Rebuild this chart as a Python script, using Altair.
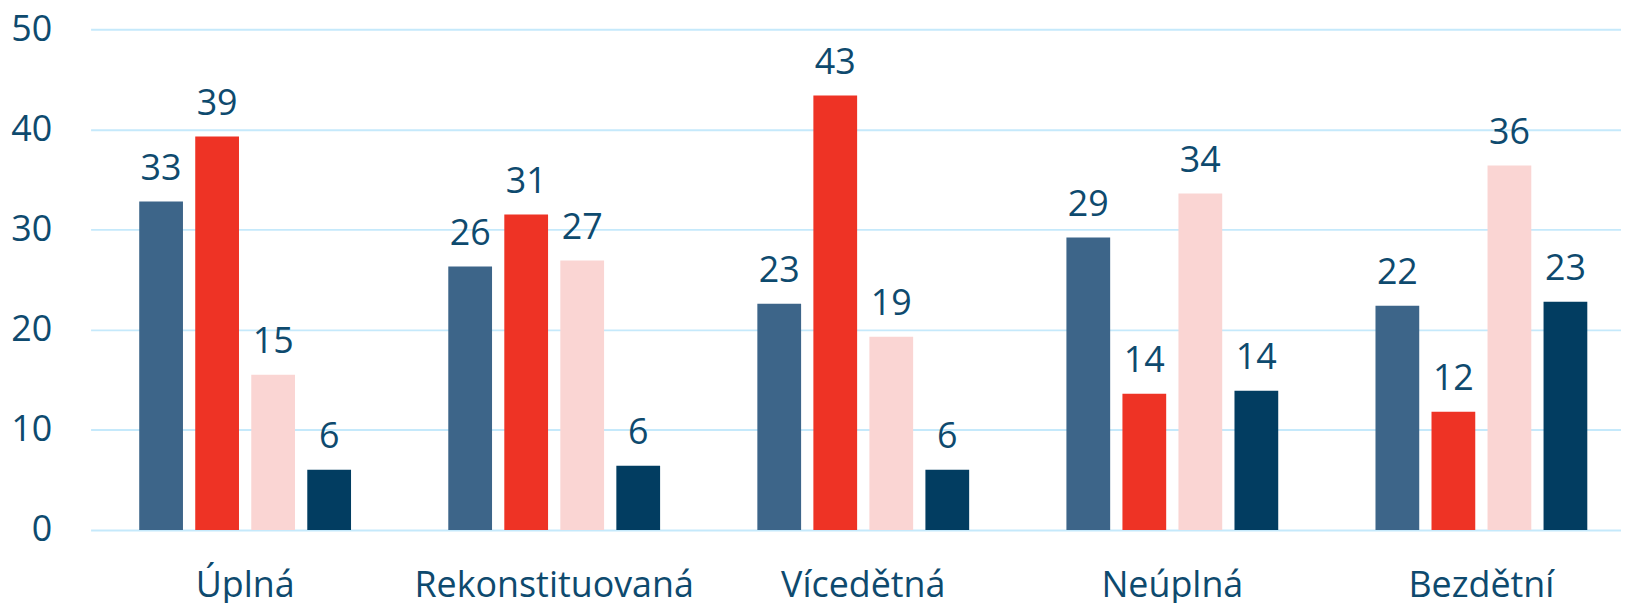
import altair as alt
import pandas as pd

categories = ["Úplná", "Rekonstituovaná", "Vícedětná", "Neúplná", "Bezdětní"]
series = ["s1", "s2", "s3", "s4"]
values_s1 = [32.8, 26.3, 22.6, 29.2, 22.4]
values_s2 = [39.3, 31.5, 43.4, 13.6, 11.8]
values_s3 = [15.5, 26.9, 19.3, 33.6, 36.4]
values_s4 = [6.0, 6.4, 6.0, 13.9, 22.8]
labels_s1 = [33, 26, 23, 29, 22]
labels_s2 = [39, 31, 43, 14, 12]
labels_s3 = [15, 27, 19, 34, 36]
labels_s4 = [6, 6, 6, 14, 23]
y_ticks = [0, 10, 20, 30, 40, 50]
colors = ["#3d6589", "#ee3325", "#fad5d3", "#023d61"]

rows = []
for s, vals, labs in zip(series,
                         [values_s1, values_s2, values_s3, values_s4],
                         [labels_s1, labels_s2, labels_s3, labels_s4]):
    for c, v, l in zip(categories, vals, labs):
        rows.append({"cat": c, "series": s, "value": v, "label": str(l)})
df = pd.DataFrame(rows)

FONT = "Open Sans"
TXT = "#0e4a6e"
FS = 36

x = alt.X("cat:N", sort=categories, title=None,
          scale=alt.Scale(range=[0, 1553], paddingInner=0, paddingOuter=0),
          axis=alt.Axis(labelAngle=0, labelFontSize=FS, labelFont=FONT,
                        labelColor=TXT, ticks=False, domain=False,
                        labelPadding=39, labelLimit=0, grid=False))
xo = alt.XOffset("series:N", sort=series,
                 scale=alt.Scale(paddingInner=0.219, paddingOuter=0.868))
y = alt.Y("value:Q", title=None,
          scale=alt.Scale(domain=[0, 50], nice=False),
          axis=alt.Axis(values=y_ticks, labelFontSize=FS, labelFont=FONT,
                        labelColor=TXT, ticks=False, domain=False,
                        labelPadding=39, gridColor="#c5e9fb", gridWidth=2))

bars = alt.Chart(df).mark_bar().encode(
    x=x, xOffset=xo, y=y,
    color=alt.Color("series:N", sort=series,
                    scale=alt.Scale(domain=series, range=colors), legend=None),
)
texts = alt.Chart(df).mark_text(
    baseline="alphabetic", dy=-22, fontSize=FS, font=FONT, color=TXT
).encode(x=x, xOffset=xo, y=y, text="label:N")

chart = (bars + texts).properties(
    width=1538, height=503,
    autosize=alt.AutoSizeParams(type="none"),
    padding={"left": 83, "top": 20, "right": 0, "bottom": 72},
).configure_view(stroke=None)

chart.save("out.html", embed_options={"renderer": "svg", "actions": False})
